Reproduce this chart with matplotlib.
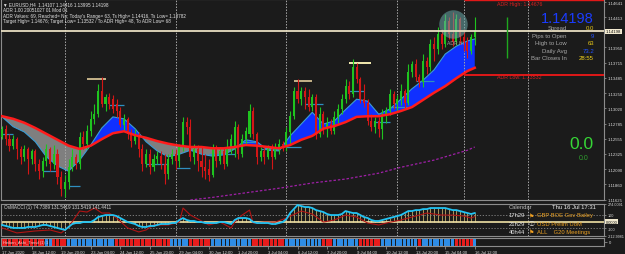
import matplotlib.pyplot as plt

plt.rcParams['font.family'] = ['Liberation Sans', 'DejaVu Sans']

W, H = 625, 255
BG = '#1b1b1b'
EDGE = '#8c8c8c'

# EURUSD H4 bars, 17 Jun 2020 04:00 .. 16 Jul 2020 12:00
opens = [1.1258, 1.1271, 1.1255, 1.1245, 1.1255, 1.1240, 1.1228, 1.1240, 1.1225, 1.1237,
         1.1217, 1.1206, 1.1222, 1.1240, 1.1217, 1.1232, 1.1197, 1.1179, 1.1190, 1.1212,
         1.1228, 1.1217, 1.1258, 1.1248, 1.1267, 1.1286, 1.1293, 1.1329, 1.1309, 1.1319,
         1.1316, 1.1309, 1.1298, 1.1277, 1.1286, 1.1263, 1.1252, 1.1261, 1.1240, 1.1217,
         1.1232, 1.1212, 1.1225, 1.1229, 1.1217, 1.1202, 1.1225, 1.1232, 1.1222, 1.1243,
         1.1281, 1.1274, 1.1228, 1.1240, 1.1222, 1.1212, 1.1209, 1.1200, 1.1240, 1.1222,
         1.1237, 1.1217, 1.1243, 1.1243, 1.1274, 1.1232, 1.1255, 1.1263, 1.1298, 1.1263,
         1.1228, 1.1237, 1.1228, 1.1240, 1.1228, 1.1243, 1.1248, 1.1243, 1.1266, 1.1290,
         1.1329, 1.1316, 1.1329, 1.1319, 1.1304, 1.1319, 1.1263, 1.1293, 1.1271, 1.1278,
         1.1267, 1.1289, 1.1301, 1.1316, 1.1336, 1.1324, 1.1365, 1.1347, 1.1316, 1.1310,
         1.1283, 1.1274, 1.1283, 1.1271, 1.1293, 1.1298, 1.1324, 1.1309, 1.1316, 1.1329,
         1.1310, 1.1358, 1.1370, 1.1350, 1.1342, 1.1374, 1.1365, 1.1400, 1.1393, 1.1416,
         1.1400, 1.1436, 1.1416, 1.1403, 1.1439, 1.1411, 1.1403, 1.1390, 1.14107]
highs = [1.1275, 1.1277, 1.1263, 1.1261, 1.1258, 1.1245, 1.1246, 1.1243, 1.1240, 1.1240,
         1.1225, 1.1228, 1.1248, 1.1243, 1.1246, 1.1240, 1.1206, 1.1200, 1.1225, 1.1240,
         1.1232, 1.1266, 1.1267, 1.1277, 1.1298, 1.1309, 1.1339, 1.1350, 1.1324, 1.1326,
         1.1322, 1.1316, 1.1304, 1.1293, 1.1289, 1.1271, 1.1271, 1.1266, 1.1248, 1.1240,
         1.1240, 1.1232, 1.1237, 1.1237, 1.1232, 1.1232, 1.1240, 1.1240, 1.1248, 1.1289,
         1.1289, 1.1286, 1.1248, 1.1246, 1.1243, 1.1232, 1.1225, 1.1248, 1.1246, 1.1243,
         1.1243, 1.1255, 1.1263, 1.1283, 1.1278, 1.1263, 1.1274, 1.1309, 1.1304, 1.1266,
         1.1243, 1.1243, 1.1246, 1.1248, 1.1249, 1.1255, 1.1252, 1.1274, 1.1298, 1.1335,
         1.1347, 1.1335, 1.1335, 1.1332, 1.1324, 1.1324, 1.1304, 1.1298, 1.1289, 1.1286,
         1.1298, 1.1309, 1.1324, 1.1347, 1.1344, 1.1377, 1.1371, 1.1350, 1.1339, 1.1316,
         1.1293, 1.1289, 1.1289, 1.1301, 1.1304, 1.1332, 1.1329, 1.1322, 1.1339, 1.1332,
         1.1370, 1.1374, 1.1377, 1.1355, 1.1385, 1.1381, 1.1408, 1.1411, 1.1426, 1.1423,
         1.1446, 1.1442, 1.1449, 1.1446, 1.1442, 1.1423, 1.1411, 1.1416, 1.14416]
lows = [1.1255, 1.1246, 1.1237, 1.1240, 1.1225, 1.1217, 1.1222, 1.1202, 1.1217, 1.1206,
        1.1194, 1.1197, 1.1214, 1.1206, 1.1209, 1.1186, 1.1168, 1.1166, 1.1179, 1.1206,
        1.1209, 1.1209, 1.1240, 1.1240, 1.1260, 1.1278, 1.1289, 1.1304, 1.1298, 1.1301,
        1.1295, 1.1289, 1.1274, 1.1267, 1.1255, 1.1243, 1.1248, 1.1228, 1.1206, 1.1212,
        1.1202, 1.1206, 1.1217, 1.1209, 1.1186, 1.1194, 1.1217, 1.1209, 1.1212, 1.1237,
        1.1263, 1.1222, 1.1217, 1.1206, 1.1197, 1.1194, 1.1191, 1.1197, 1.1212, 1.1217,
        1.1209, 1.1214, 1.1232, 1.1228, 1.1225, 1.1228, 1.1248, 1.1258, 1.1255, 1.1217,
        1.1222, 1.1217, 1.1225, 1.1209, 1.1225, 1.1232, 1.1237, 1.1237, 1.1248, 1.1286,
        1.1310, 1.1307, 1.1301, 1.1298, 1.1298, 1.1255, 1.1258, 1.1263, 1.1258, 1.1263,
        1.1263, 1.1280, 1.1293, 1.1310, 1.1316, 1.1319, 1.1341, 1.1310, 1.1304, 1.1277,
        1.1267, 1.1264, 1.1258, 1.1255, 1.1280, 1.1292, 1.1301, 1.1298, 1.1307, 1.1301,
        1.1307, 1.1350, 1.1344, 1.1335, 1.1335, 1.1355, 1.1359, 1.1374, 1.1385, 1.1393,
        1.1396, 1.1408, 1.1397, 1.1399, 1.1400, 1.1390, 1.13782, 1.1385, 1.13995]
closes = [1.1271, 1.1255, 1.1245, 1.1255, 1.1240, 1.1228, 1.1240, 1.1225, 1.1237, 1.1217,
          1.1206, 1.1222, 1.1240, 1.1217, 1.1232, 1.1197, 1.1179, 1.1190, 1.1212, 1.1228,
          1.1217, 1.1258, 1.1248, 1.1267, 1.1286, 1.1293, 1.1329, 1.1309, 1.1319, 1.1309,
          1.1301, 1.1298, 1.1277, 1.1286, 1.1263, 1.1252, 1.1261, 1.1240, 1.1217, 1.1232,
          1.1212, 1.1225, 1.1229, 1.1217, 1.1202, 1.1225, 1.1232, 1.1222, 1.1243, 1.1281,
          1.1274, 1.1228, 1.1240, 1.1222, 1.1212, 1.1206, 1.1200, 1.1240, 1.1222, 1.1237,
          1.1217, 1.1243, 1.1255, 1.1274, 1.1232, 1.1255, 1.1267, 1.1298, 1.1263, 1.1228,
          1.1237, 1.1228, 1.1240, 1.1228, 1.1243, 1.1248, 1.1243, 1.1266, 1.1290, 1.1329,
          1.1316, 1.1329, 1.1319, 1.1304, 1.1319, 1.1263, 1.1293, 1.1271, 1.1278, 1.1267,
          1.1289, 1.1301, 1.1316, 1.1336, 1.1324, 1.1365, 1.1347, 1.1316, 1.1310, 1.1283,
          1.1274, 1.1283, 1.1271, 1.1293, 1.1298, 1.1324, 1.1309, 1.1316, 1.1329, 1.1310,
          1.1358, 1.1370, 1.1350, 1.1342, 1.1374, 1.1365, 1.1400, 1.1393, 1.1416, 1.1400,
          1.1436, 1.1416, 1.1403, 1.1439, 1.1411, 1.1403, 1.1390, 1.14107, 1.14198]

time_labels = ['17 Jun 2020', '18 Jun 12:00', '19 Jun 20:00', '23 Jun 04:00', '24 Jun 12:00',
               '25 Jun 20:00', '29 Jun 04:00', '30 Jun 12:00', '1 Jul 20:00', '3 Jul 04:00',
               '6 Jul 12:00', '7 Jul 20:00', '9 Jul 04:00', '10 Jul 12:00', '13 Jul 20:00',
               '15 Jul 04:00', '16 Jul 12:00']
price_ticks = [1.14641, 1.14413, 1.13950, 1.13715, 1.13485, 1.13250, 1.13020,
               1.12785, 1.12555, 1.12325, 1.12090, 1.11860, 1.11625]

# moving-average cloud (sampled every 3 bars)
ma_bars = list(range(0, 127, 3)) + [128]
ma_slow = [1.1290, 1.1286, 1.1280, 1.1272, 1.1263, 1.1254, 1.1245, 1.1240, 1.1245, 1.1255,
           1.1264, 1.1267, 1.1261, 1.1257, 1.1252, 1.1248, 1.1245, 1.1243, 1.1243, 1.1241,
           1.1241, 1.1243, 1.1246, 1.1245, 1.1243, 1.1241, 1.1246, 1.1254, 1.1260, 1.1271,
           1.1275, 1.1281, 1.1289, 1.1290, 1.1290, 1.1293, 1.1298, 1.1304, 1.1315, 1.1326,
           1.1336, 1.1348, 1.1359, 1.1364]
ma_fast = [1.1289, 1.1274, 1.1266, 1.1251, 1.1228, 1.1214, 1.1206, 1.1223, 1.1246, 1.1272,
           1.1289, 1.1286, 1.1271, 1.1251, 1.1237, 1.1228, 1.1232, 1.1238, 1.1232, 1.1229,
           1.1231, 1.1240, 1.1254, 1.1251, 1.1238, 1.1237, 1.1260, 1.1278, 1.1296, 1.1278,
           1.1283, 1.1300, 1.1316, 1.1313, 1.1293, 1.1301, 1.1316, 1.1332, 1.1345, 1.1361,
           1.1385, 1.1397, 1.1405, 1.1408]
ma_long_bars = [51, 57, 66, 75, 84, 93, 102, 108, 117, 126, 128]
ma_long = [1.1162, 1.1166, 1.1173, 1.1180, 1.1188, 1.1194, 1.1203, 1.1212, 1.1223, 1.1238, 1.1243]

# short pivot segments
seg_start = [0, 11, 18, 29, 39, 47, 56, 65, 70, 77, 82, 94, 101, 105, 112]
seg_end = [3, 15, 21, 33, 45, 51, 63, 69, 75, 81, 87, 98, 105, 110, 117]
seg_price = [1.1263, 1.1206, 1.1183, 1.1307, 1.1217, 1.1211, 1.1232, 1.1251, 1.1240,
             1.1243, 1.1309, 1.1329, 1.1281, 1.1304, 1.1344]
hat_start = [23, 79, 94]
hat_end = [28, 84, 100]
hat_price = [1.1347, 1.1344, 1.1371]

week_starts = [17, 47, 77, 107]
day_start = 125
adr_high, adr_low = 1.14676, 1.13532
today_high, today_low = 1.14416, 1.13782

# CCI panel
cci_main = [-53, -68, -83, -98, -98, -98, -98, -83, -83, -83, -68, -53, -53, -68, -83, -98,
            -114, -129, -83, -38, -23, -23, -8, -8, -8, 23, 68, 83, 98, 98, 98, 83, 53, 23,
            -8, -23, -38, -68, -83, -83, -68, -68, -53, -38, -38, -38, -23, -23, 23, 53, 23,
            8, 8, -8, -8, -23, -23, -23, -23, -8, -8, -23, -38, 23, 53, 53, 53, 38, -8, -23,
            -23, -23, -23, -38, -38, -23, -8, 38, 129, 189, 250, 235, 220, 220, 205, 174, 159,
            144, 114, 98, 98, 98, 114, 159, 144, 129, 129, 98, 68, 53, 23, 8, 8, 23, 38, 53,
            68, 83, 98, 129, 159, 159, 174, 174, 189, 189, 205, 205, 205, 205, 205, 189, 174,
            174, 159, 144, 129, 114, 129]
cci_sig_bars = [0, 4, 9, 13, 16, 18, 21, 23, 25, 27, 29, 31, 34, 37, 39, 41, 45, 48, 49, 51,
                54, 56, 59, 62, 63, 65, 67, 68, 71, 74, 77, 81, 84, 87, 90, 93, 96, 99, 102,
                104, 108, 111, 115, 119, 122, 125, 127, 128]
cci_sig = [-98, -174, -144, -129, -174, -83, 159, 144, 205, 129, 129, 53, -98, -159, -129,
           -53, -53, -8, 205, 98, 8, -53, -8, -98, -8, 98, 174, -23, -8, -8, 53, 159, 114,
           -8, 23, 98, 68, -23, -53, -23, 23, 68, 129, 98, 98, 83, 53, 75]

# Heiken Ashi trend strip (1 = up / blue, 0 = down / red)
trend = ([0] * 12 + [1] * 2 + [0] * 4 + [1] * 13 + [0] * 15 + [1] * 5 + [0] * 6 + [1] * 11
         + [0] * 9 + [1] * 10 + [0] * 3 + [1] * 7 + [0] * 6 + [1] * 10 + [0] + [1] * 9
         + [0] * 5 + [1])


def box(x0, y0, x1, y1):
    return [x0 / W, 1 - y1 / H, (x1 - x0) / W, (y1 - y0) / H]


def ftext(x, y, s, **kw):
    fig.text(x / W, 1 - y / H, s, va='center', **kw)


fig = plt.figure(figsize=(6.25, 2.55), dpi=100, facecolor=BG)
bars = list(range(len(closes)))
XMAX = 163

# ---------------- main price panel ----------------
ax = fig.add_axes(box(1, 0, 604, 201), facecolor=BG)
ax.set_xlim(-0.3, XMAX)
ax.set_ylim(1.11620, 1.14691)

fast_up = [f >= s for f, s in zip(ma_fast, ma_slow)]
fast_dn = [not u for u in fast_up]
ax.fill_between(ma_bars, ma_slow, ma_fast, where=fast_up, interpolate=True,
                color='#1030ff', lw=0, zorder=1)
ax.fill_between(ma_bars, ma_slow, ma_fast, where=fast_dn, interpolate=True,
                color='#7f7f7f', lw=0, zorder=1)
ax.plot(ma_bars, ma_fast, color='#3a9ed6', lw=0.8, zorder=2)
ax.plot(ma_long_bars, ma_long, color='#a020a8', lw=0.9, ls=(0, (2, 1.5)), zorder=2)

for b in week_starts + [day_start]:
    ax.axvline(b, color='#a8a8a8', lw=0.7, ls=(0, (1.5, 1.5)), zorder=1)
ax.axvline(142.4, color='#a8a8a8', lw=0.7, ls=(0, (1.5, 1.5)), zorder=1)

ax.hlines(seg_price, seg_start, seg_end, color='#2f8fc0', lw=0.9, zorder=3)
ax.hlines(hat_price, hat_start, hat_end, color=['#c6b48a', '#c6b48a', '#f2eab0'], lw=1.4, zorder=3)

col = ['#1fc41f' if c >= o else '#d41616' for o, c in zip(opens, closes)]
body = [max(abs(c - o), 0.00004) for o, c in zip(opens, closes)]
bottom = [min(o, c) for o, c in zip(opens, closes)]
ax.vlines(bars, lows, highs, colors=col, lw=0.8, zorder=4)
ax.bar(bars, body, bottom=bottom, width=0.55, color=col, lw=0, zorder=5)
ax.plot(ma_bars, ma_slow, color='#ff1c1c', lw=1.8, zorder=6)

ax.scatter([122], [1.1431], s=420, color='#6aa8a8', alpha=0.55, lw=0, zorder=7)
ax.text(120.5, 1.1403, 'ADR Hi', color='#9a9a9a', fontsize=3.6, va='center', zorder=8)

ax.axhline(closes[-1], color='#e8dfc2', lw=1.3, zorder=8)
ax.hlines([adr_low], day_start, XMAX, color='#e01818', lw=1.4, zorder=8)
ax.hlines([adr_high], day_start, XMAX, color='#e01818', lw=1.0, zorder=8)
ax.vlines([136.8], today_low, today_high, color='#1fa81f', lw=1.0, zorder=8)
ax.text(134, adr_low - 0.00028, 'ADR Low: %.5f' % adr_low, color='#d82020',
        fontsize=3.8, va='center')
ax.text(134, adr_high - 0.00060, 'ADR High: %.5f' % adr_high, color='#d82020',
        fontsize=3.8, va='center')

ax.set_xticks([])
ax.yaxis.tick_right()
ax.set_yticks(price_ticks)
ax.set_yticklabels(['%.5f' % p for p in price_ticks])
ax.tick_params(axis='y', colors=EDGE, labelcolor='#d8d8d8', labelsize=3.1,
               length=1.5, width=0.6, pad=1)
for s in ax.spines.values():
    s.set_color(EDGE)
    s.set_linewidth(0.8)
ax.text(1.003, closes[-1], '%.5f' % closes[-1], transform=ax.get_yaxis_transform(),
        fontsize=3.1, color='#101010', va='center', ha='left',
        bbox=dict(boxstyle='square,pad=0.12', fc='#f2ead0', ec='none'))

# ---------------- CCI panel ----------------
cax = fig.add_axes(box(1, 204.5, 604, 236.5), facecolor=BG)
cax.set_xlim(-0.3, XMAX)
cax.set_ylim(-213, 274)
cax.vlines(bars, 0, cci_main, color='#a8965e', lw=0.7, zorder=1)
for lv in (100, -100):
    cax.axhline(lv, color='#8a8a8a', lw=0.6, ls=(0, (1.5, 2)), zorder=1)
for b in week_starts + [142.4]:
    cax.axvline(b, color='#a8a8a8', lw=0.7, ls=(0, (1.5, 1.5)), zorder=1)
cax.axhline(0, color='#f0e2a6', lw=1.2, zorder=2)
cax.plot(cci_sig_bars, cci_sig, color='#b01414', lw=0.8, zorder=3)
cax.plot(bars, cci_main, color='#22c4f4', lw=1.3, zorder=4)
cax.set_xticks([])
cax.yaxis.tick_right()
cax.set_yticks([274, 100, -100, -213])
cax.set_yticklabels(['274.0091', '100', '-100', '-212.9981'])
cax.tick_params(axis='y', colors=EDGE, labelcolor='#d8d8d8', labelsize=2.7,
                length=1.5, width=0.6, pad=1)
for s in cax.spines.values():
    s.set_color(EDGE)
    s.set_linewidth(0.8)
cax.text(1.003, 0, '0.0000', transform=cax.get_yaxis_transform(), fontsize=2.9,
         color='#101010', va='center', ha='left',
         bbox=dict(boxstyle='square,pad=0.12', fc='#f2ead0', ec='none'))

# ---------------- trend strip ----------------
sax = fig.add_axes(box(1, 239, 604, 246.5), facecolor=BG)
sax.set_xlim(-0.3, XMAX)
sax.set_ylim(0, 1)
sax.bar(bars, [1] * len(trend), bottom=0, width=0.8,
        color=['#2e8de6' if t else '#e81c1c' for t in trend], lw=0)
sax.set_yticks([0.5])
sax.set_yticklabels(['0'])
sax.yaxis.tick_right()
sax.set_xticks(list(range(0, 129, 8)))
sax.set_xticklabels(time_labels)
for lbl in sax.get_xticklabels():
    lbl.set_ha('left')
sax.tick_params(axis='both', colors=EDGE, labelcolor='#e0e0e0', labelsize=3.0,
                length=2, width=0.6, pad=1.2)
for s in sax.spines.values():
    s.set_color(EDGE)
    s.set_linewidth(0.8)
sax.text(0.004, 0.5, 'Heiken_Ashi_Trend (1) 1', transform=sax.transAxes,
         fontsize=3.0, color='#f4d0d0', va='center')

# ---------------- text overlays ----------------
hdr = ['\u25bc EURUSD,H4  1.14107 1.14416 1.13995 1.14198',
       'ADR 1.00 20051027 01 Mod 01',
       "ADR Values: 69, Reached= No; Today's Range= 63, Ts High= 1.14416, Ts Low= 1.13782",
       'Target High= 1.14676; Target Low= 1.13532 / To ADR High= 48, To ADR Low= 68']
for i, line in enumerate(hdr):
    ftext(3, 5 + i * 5.6, line, color='#e4e4e4', fontsize=3.3)

ftext(594, 19, '1.14198', color='#1a3cff', fontsize=10.5, ha='right')
info_lbl = ['Spread', 'Pips to Open', 'High to Low', 'Daily Avg', 'Bar Closes In']
info_val = ['0.0', '9', '63', '73.2', '28:55']
info_col = ['#e6c619', '#2352ff', '#e6c619', '#2352ff', '#f2d21c']
for i, (l, v, c) in enumerate(zip(info_lbl, info_val, info_col)):
    ftext(567, 28.5 + i * 7.6, l, color='#a8a8a8', fontsize=4.3, ha='right')
    ftext(594, 28.5 + i * 7.6, v, color=c, fontsize=4.3, ha='right')

ftext(593, 145, '0.0', color='#36d636', fontsize=12.5, ha='right')
ftext(584, 158, '0.0', color='#2ea02e', fontsize=5, ha='center')

ftext(4, 208, 'OsMACCI (1) 74.7389 131.5419 131.5419 141.4411', color='#d6d6d6', fontsize=3.3)

ftext(509, 208, 'Calendar', color='#b8b8b8', fontsize=4.2)
ftext(596, 208, 'Thu 16 Jul 17:31', color='#ececec', fontsize=4.2, ha='right')
cal_time = ['17h29', '21h29', '40h44']
cal_icon = ['\u2691', '\u24d8', '\u2691']
cal_icon_col = ['#f0a020', '#e0e0e0', '#f0a020']
cal_event = ['GBP BOE Gov Bailey', 'USD Prelim UoM', 'ALL    G20 Meetings']
for i in range(3):
    y = 216 + i * 8.4
    ftext(509, y, cal_time[i], color='#e4e4e4', fontsize=4.2)
    ftext(529, y, cal_icon[i], color=cal_icon_col[i], fontsize=4.2,
          family=['Noto Sans CJK JP', 'DejaVu Sans'])
    ftext(537, y, cal_event[i], color='#e8a024', fontsize=4.2)

fig.savefig('out.png', dpi=100, facecolor=BG)
